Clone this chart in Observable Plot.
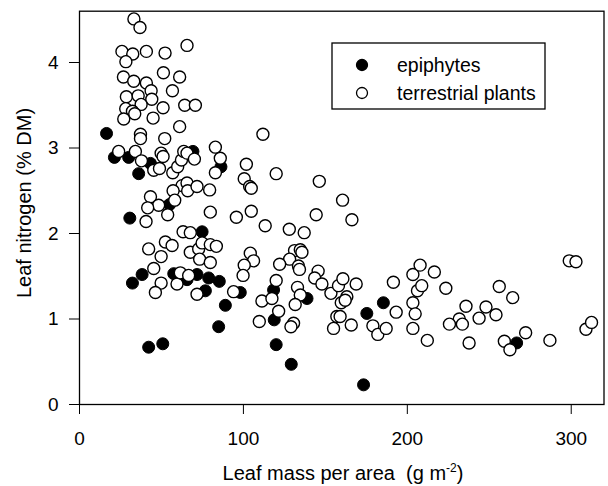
<!DOCTYPE html>
<html>
<head>
<meta charset="utf-8">
<script src="https://cdn.jsdelivr.net/npm/d3@7"></script>
<script src="https://cdn.jsdelivr.net/npm/@observablehq/plot@0.6"></script>
<style>
  html, body { margin: 0; padding: 0; background: white; }
</style>
</head>
<body>
<div id="chart"></div>
<script>
// Epiphytes (filled circles)
const epiX = [16.5, 21.3, 30.0, 36.1, 43.3, 69.2, 86.3, 55.0, 30.7, 74.8, 38.2, 32.3, 57.5, 65.6, 71.7, 78.8,
  85.3, 76.8, 98.1, 89.0, 84.9, 42.2, 50.8, 118.4, 118.8, 120.0, 129.2, 138.8, 175.3, 185.4, 173.3, 266.7];
const epiY = [3.17, 2.89, 2.89, 2.70, 2.82, 2.96, 2.78, 2.34, 2.18, 2.02, 1.52, 1.42, 1.53, 1.46, 1.52, 1.48,
  1.44, 1.33, 1.31, 1.16, 0.91, 0.67, 0.71, 1.34, 0.99, 0.70, 0.47, 1.24, 1.065, 1.19, 0.23, 0.72];

// Terrestrial plants (open circles)
const terX = [
  33.2, 36.9, 25.9, 32.5, 28.3, 40.8, 52.2, 65.6, 26.8, 33.1, 40.8, 51.2, 61.1, 43.7, 56.7, 28.6, 35.8,
  44.1, 37.6, 28.2, 32.3, 33.7, 51.0, 64.2, 70.7, 27.0, 44.9, 61.1, 37.2, 37.2, 52.0, 82.9, 111.9,
  23.9, 34.1, 37.8, 45.3, 48.8, 49.8, 51.0, 56.9, 59.9, 62.2, 63.6, 65.6, 70.1, 85.9, 82.9, 101.8,
  100.5, 103.8, 104.8, 62.6, 65.6, 66.0, 71.7, 79.4, 57.1, 58.1, 43.3, 48.3, 41.6, 53.8, 40.6, 79.8,
  95.7, 104.8, 120.0, 146.3, 160.5, 166.2, 144.4, 113.3, 128.0, 137.1,
  63.2, 67.6, 52.4, 56.5, 42.2, 49.8, 67.6, 72.7, 74.8, 79.8, 83.5, 73.3, 79.8, 104.2, 106.2, 100.5,
  99.8, 131.2, 134.7, 135.7, 128.2, 122.1, 133.6, 134.2, 145.6, 143.5, 45.3, 49.8, 46.3, 59.5, 61.5,
  66.6, 71.7, 94.0, 120.0, 133.0, 134.7, 131.6, 111.3, 117.4, 121.5,
  147.9, 153.4, 158.0, 160.7, 163.1, 159.7, 162.1, 168.8, 157.0, 159.0, 155.0, 165.8, 179.0, 182.0,
  187.1, 193.2, 191.5, 203.4, 207.8, 206.2, 203.4, 204.8, 203.4, 109.7, 130.6, 129.0,
  216.5, 208.8, 223.5, 212.2, 235.8, 231.7, 225.7, 233.6, 237.7, 243.8, 248.0, 254.1, 256.1, 264.3,
  259.2, 262.6, 272.2, 287.0, 298.8, 302.9, 309.0, 312.4];
const terY = [
  4.51, 4.41, 4.13, 4.10, 4.01, 4.13, 4.11, 4.20, 3.83, 3.78, 3.76, 3.88, 3.83, 3.67, 3.67, 3.60, 3.61,
  3.57, 3.51, 3.46, 3.43, 3.40, 3.47, 3.50, 3.50, 3.34, 3.35, 3.25, 3.16, 3.11, 3.11, 3.01, 3.16,
  2.96, 2.96, 2.85, 2.74, 2.76, 2.94, 2.90, 2.71, 2.78, 2.86, 2.96, 2.94, 2.87, 2.88, 2.71, 2.81,
  2.64, 2.55, 2.53, 2.56, 2.59, 2.50, 2.55, 2.51, 2.50, 2.39, 2.43, 2.33, 2.30, 2.22, 2.14, 2.25,
  2.19, 2.26, 2.70, 2.61, 2.39, 2.16, 2.22, 2.09, 2.05, 2.01,
  2.02, 2.01, 1.90, 1.86, 1.82, 1.73, 1.78, 1.82, 1.89, 1.87, 1.85, 1.70, 1.66, 1.77, 1.68, 1.63,
  1.51, 1.80, 1.81, 1.78, 1.70, 1.64, 1.62, 1.58, 1.56, 1.48, 1.59, 1.42, 1.31, 1.41, 1.54,
  1.51, 1.29, 1.32, 1.45, 1.37, 1.28, 1.17, 1.21, 1.24, 1.09,
  1.41, 1.30, 1.39, 1.47, 1.26, 1.19, 1.22, 1.41, 1.03, 1.03, 0.89, 0.93, 0.92, 0.82,
  0.89, 1.08, 1.43, 1.52, 1.63, 1.33, 1.19, 1.06, 0.89, 0.97, 0.95, 0.91,
  1.55, 1.39, 1.36, 0.75, 1.15, 1.00, 0.94, 0.94, 0.72, 1.01, 1.14, 1.05, 1.38, 1.25,
  0.74, 0.64, 0.84, 0.75, 1.68, 1.67, 0.88, 0.96];

const xTicks = [0, 100, 200, 300];
const yTicks = [0, 1, 2, 3, 4];
const xDomain = [0, 320];
const yDomain = [0, 4.6];
const legendLabels = ["epiphytes", "terrestrial plants"];
const xLabelMain = "Leaf mass per area  (g m";
const xLabelSup = "-2";
const xLabelEnd = ")";
const yLabel = "Leaf nitrogen (% DM)";

const epi = epiX.map((x, i) => ({x, y: epiY[i]}));
const ter = terX.map((x, i) => ({x, y: terY[i]}));

const FONT = '"Liberation Sans", Arial, Helvetica, sans-serif';

const chart = Plot.plot({
  width: 608,
  height: 486,
  marginLeft: 79,
  marginRight: 4.5,
  marginTop: 10.7,
  marginBottom: 82,
  style: {fontFamily: FONT, fontSize: "19px", color: "black", background: "white", overflow: "visible"},
  x: {domain: xDomain},
  y: {domain: yDomain},
  marks: [
    Plot.dot(epi, {x: "x", y: "y", r: 6, fill: "black", stroke: "black", strokeWidth: 1}),
    Plot.dot(ter, {x: "x", y: "y", r: 6, fill: "white", stroke: "black", strokeWidth: 1.4}),
    Plot.frame({stroke: "black", strokeWidth: 1.3}),
    Plot.axisX({ticks: xTicks, tickSize: 10, tickPadding: 17, label: null, tickFormat: d => String(d)}),
    Plot.axisY({ticks: yTicks, tickSize: 10, tickPadding: 11, label: null, tickFormat: d => String(d)})
  ]
});

document.getElementById("chart").appendChild(chart);

const svg = d3.select(chart);

// x axis title
const xt = svg.append("text")
  .attr("x", 343).attr("y", 480)
  .attr("text-anchor", "middle")
  .style("white-space", "pre")
  .attr("font-family", FONT).attr("font-size", 20).attr("fill", "black");
xt.append("tspan").text(xLabelMain);
xt.append("tspan").attr("dy", -8).attr("font-size", 12).text(xLabelSup);
xt.append("tspan").attr("dy", 8).text(xLabelEnd);

// y axis title
svg.append("text")
  .attr("transform", "translate(31,203) rotate(-90)")
  .attr("text-anchor", "middle")
  .attr("font-family", FONT).attr("font-size", 20).attr("fill", "black")
  .text(yLabel);

// legend
const lg = svg.append("g");
lg.append("rect").attr("x", 332).attr("y", 43).attr("width", 213).attr("height", 66)
  .attr("fill", "white").attr("stroke", "black").attr("stroke-width", 1.3);
const rows = [{fill: "black", cy: 65}, {fill: "white", cy: 93}];
rows.forEach((r, i) => {
  lg.append("circle").attr("cx", 362).attr("cy", r.cy).attr("r", 5.5)
    .attr("fill", r.fill).attr("stroke", "black").attr("stroke-width", 1.3);
  lg.append("text").attr("x", 397).attr("y", r.cy + 6.5)
    .attr("text-anchor", "start")
    .attr("font-family", FONT).attr("font-size", 19.5).attr("fill", "black")
    .text(legendLabels[i]);
});
</script>
</body>
</html>
